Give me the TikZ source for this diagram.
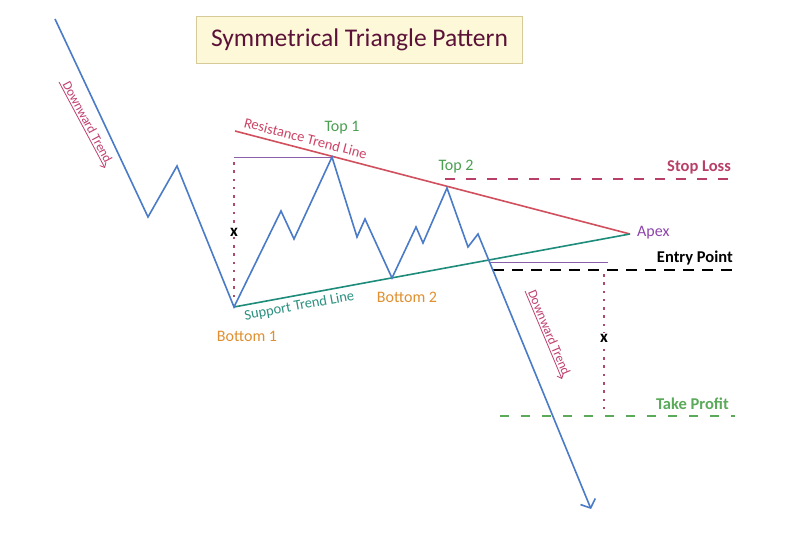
\documentclass[tikz,border=0pt]{standalone}
\usepackage{fontspec}
\setmainfont{Carlito}
\usetikzlibrary{arrows.meta}
\definecolor{pricec}{HTML}{4A7BC8}
\definecolor{resc}{HTML}{D0505E}
\definecolor{supc}{HTML}{1E8C7A}
\definecolor{purc}{HTML}{8A5EA8}
\definecolor{dotc}{HTML}{B04868}
\definecolor{slc}{HTML}{B84068}
\definecolor{tpc}{HTML}{5AAA5A}
\definecolor{topc}{HTML}{4AA050}
\definecolor{botc}{HTML}{E09030}
\definecolor{apexc}{HTML}{8E44AD}
\definecolor{suptxt}{HTML}{2A9080}
\definecolor{restxt}{HTML}{CC4466}
\definecolor{dtc}{HTML}{C04070}
\definecolor{titc}{HTML}{5C1238}
\definecolor{titfill}{HTML}{FDF8D8}
\definecolor{titdraw}{HTML}{D6CA98}
\begin{document}
\begin{tikzpicture}[x=1pt,y=-1pt,
  lbl/.style={font=\fontsize{16}{18}\selectfont, inner sep=0pt},
  blbl/.style={font=\fontsize{16.5}{18}\selectfont\bfseries, inner sep=0pt},
  slbl/.style={font=\fontsize{14.5}{16}\selectfont, inner sep=0pt},
  price/.style={draw=pricec, line width=1.6pt, line join=miter},
  trendres/.style={draw=resc, line width=1.6pt},
  trendsup/.style={draw=supc, line width=1.6pt},
  thinpur/.style={draw=purc, line width=0.9pt},
  dotline/.style={draw=dotc, line width=2.6pt, dash pattern=on 2.6pt off 5.7pt},
  dashline/.style={line width=1.6pt, dash pattern=on 10pt off 11pt},
  xmark/.style={font=\fontsize{17}{18}\selectfont\bfseries, inner sep=1pt, fill=white},
  dtarrow/.style={draw=dtc, line width=0.8pt, -{Straight Barb[length=4pt,width=7pt]}},
  dtlbl/.style={font=\fontsize{13}{14}\selectfont, text=dtc, inner sep=1.5pt}
]
\useasboundingbox (0,0) rectangle (800,534);
\fill[white] (0,0) rectangle (800,534);

% title
\node[draw=titdraw, fill=titfill, line width=0.8pt, minimum width=326pt, minimum height=47pt,
      font=\fontsize{25.5}{28}\selectfont, text=titc, inner sep=0pt] (title) at (359.5,39.5) {Symmetrical Triangle Pattern};

% coordinates of price path
\coordinate (p0) at (55,19);
\coordinate (p1) at (148,217);
\coordinate (p2) at (177,166);
\coordinate (b1) at (234,307);
\coordinate (p4) at (281,211);
\coordinate (p5) at (294,239);
\coordinate (t1) at (332,157);
\coordinate (p7) at (357,237);
\coordinate (p8) at (365,219);
\coordinate (b2) at (392,278);
\coordinate (p10) at (416,227);
\coordinate (p11) at (423,243);
\coordinate (t2) at (447,188);
\coordinate (p13) at (468,247);
\coordinate (p14) at (478,234);
\coordinate (pend) at (591,509);

\coordinate (r0) at (235,131);
\coordinate (apex) at (630,234);

% measurement helpers
\coordinate (h0) at (234,157);
\coordinate (v0) at (234,162);
\coordinate (v1) at (234,303);
\coordinate (e0) at (490,262);
\coordinate (e1) at (608,262);
\coordinate (w0) at (604,274);
\coordinate (w1) at (604,414);
\coordinate (sl0) at (445,179);
\coordinate (sl1) at (730,179);
\coordinate (ep0) at (493,270);
\coordinate (ep1) at (735,270);
\coordinate (tp0) at (500,416);
\coordinate (tp1) at (735,416);

% trend lines
\draw[trendres] (r0) -- node[sloped, pos=0.172, above=5pt, slbl, text=restxt] (restext) {Resistance Trend Line} (apex);
\draw[trendsup] (b1) -- node[sloped, pos=0.16, below=4pt, slbl, text=suptxt] (suptext) {Support Trend Line} (apex);

% horizontal / vertical measures
\draw[thinpur] (h0) -- (t1);
\draw[dotline] (v0) -- (v1);
\node[xmark] (x1) at (234,232) {x};
\draw[thinpur] (e0) -- (e1);
\draw[dotline] (w0) -- (w1);
\node[xmark] (x2) at (604,338) {x};

% levels
\draw[dashline, draw=slc] (sl0) -- (sl1);
\draw[dashline, draw=black, dash pattern=on 11pt off 8pt] (ep0) -- (ep1);
\draw[dashline, draw=tpc, dash pattern=on 9pt off 12pt] (tp0) -- (tp1);

% price path
\draw[price, -{Straight Barb[length=7pt,width=16pt]}] (p0) -- (p1) -- (p2) -- (b1) -- (p4) -- (p5) -- (t1) -- (p7) -- (p8) -- (b2) -- (p10) -- (p11) -- (t2) -- (p13) -- (p14) -- (pend);

% downward trend arrows
\coordinate (d0) at (59,82);
\coordinate (d1) at (105,168);
\draw[dtarrow] (d0) -- node[sloped, midway, above, dtlbl] (dt1) {Downward Trend} (d1);
\coordinate (d2) at (525,291);
\coordinate (d3) at (562,379);
\draw[dtarrow] (d2) -- node[sloped, midway, above, dtlbl] (dt2) {Downward Trend} (d3);

% labels
\node[lbl, text=topc] (top1) at (342,128) {Top 1};
\node[lbl, text=topc] (top2) at (456,167) {Top 2};
\node[lbl, text=botc] (bot1) at (247,336) {Bottom 1};
\node[lbl, text=botc] (bot2) at (407,297) {Bottom 2};
\node[lbl, text=apexc, anchor=west] (apexl) at (637,233) {Apex};
\node[blbl, text=slc, anchor=east] (sl) at (731,167) {Stop Loss};
\node[blbl, text=black, anchor=east] (ep) at (733,258) {Entry Point};
\node[blbl, text=tpc, anchor=east] (tp) at (729,404) {Take Profit};
\end{tikzpicture}
\end{document}
